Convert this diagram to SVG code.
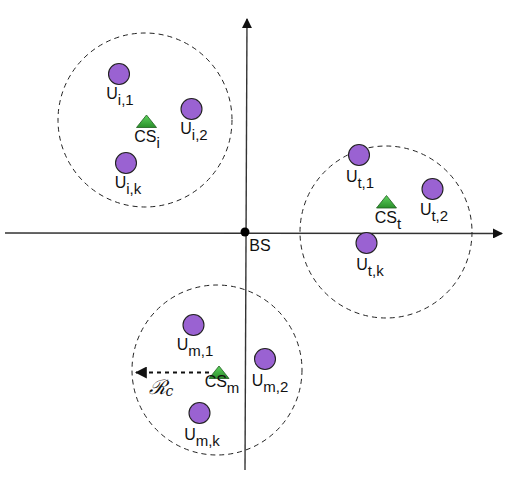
<svg xmlns="http://www.w3.org/2000/svg" width="532" height="483" viewBox="0 0 532 483">
<defs>
<marker id="ah" viewBox="0 0 10 10" refX="9" refY="5" markerWidth="10" markerHeight="10" markerUnits="userSpaceOnUse" orient="auto"><path d="M0,0 L10,5 L0,10 z" fill="#111"/></marker>
<marker id="ah2" viewBox="0 0 10 10" refX="9" refY="5" markerWidth="6" markerHeight="6" orient="auto"><path d="M0,0 L10,5 L0,10 z" fill="#111"/></marker>
<linearGradient id="g" x1="0" y1="0" x2="0" y2="1"><stop offset="0" stop-color="#5fd35f"/><stop offset="1" stop-color="#2a8f2a"/></linearGradient>
</defs>
<style>
.cell{fill:none;stroke:#222;stroke-width:1;stroke-dasharray:5,4}
.ue{fill:#9a62d2;stroke:#222;stroke-width:1.1}
.cs{fill:url(#g);stroke:#1e5e1e;stroke-width:0.8}
.axis{stroke:#333;stroke-width:1.4;fill:none}
text{font-family:"Liberation Sans",Arial,sans-serif;font-size:16px;fill:#111;text-anchor:middle}
.sub{font-size:15px}
</style>
<g id="connectors">
<line class="axis" x1="5" y1="233" x2="502" y2="233.5" marker-end="url(#ah)"/>
<line class="axis" x1="245" y1="470" x2="247" y2="19" marker-end="url(#ah)"/>
<line x1="209" y1="372.5" x2="136" y2="372.5" stroke="#111" stroke-width="2" stroke-dasharray="4,4" marker-end="url(#ah2)"/>
</g>
<g id="BS"><circle cx="245" cy="232" r="4.5" fill="#000"/><text x="260" y="251">BS</text></g>
<g id="cell_i"><circle class="cell" cx="145" cy="120" r="87"/></g>
<g id="cell_t"><circle class="cell" cx="386" cy="232" r="86"/></g>
<g id="cell_m"><circle class="cell" cx="217" cy="370" r="85"/></g>
<g id="U_i1"><circle class="ue" cx="119" cy="74" r="10.5"/><text x="120" y="99">U<tspan class="sub" dy="6">i,1</tspan></text></g>
<g id="U_i2"><circle class="ue" cx="191.5" cy="109" r="10.5"/><text x="194" y="134">U<tspan class="sub" dy="6">i,2</tspan></text></g>
<g id="U_ik"><circle class="ue" cx="126" cy="163" r="10.5"/><text x="128" y="188">U<tspan class="sub" dy="6">i,k</tspan></text></g>
<g id="CS_i"><path class="cs" d="M146.5,115 L156.5,127.5 L136.5,127.5 z"/><text x="147" y="142">CS<tspan class="sub" dy="6">i</tspan></text></g>
<g id="U_t1"><circle class="ue" cx="359" cy="155" r="10.5"/><text x="360" y="182">U<tspan class="sub" dy="6">t,1</tspan></text></g>
<g id="U_t2"><circle class="ue" cx="432.5" cy="189" r="10.5"/><text x="434" y="215">U<tspan class="sub" dy="6">t,2</tspan></text></g>
<g id="U_tk"><circle class="ue" cx="366.5" cy="243" r="10.5"/><text x="370" y="270">U<tspan class="sub" dy="6">t,k</tspan></text></g>
<g id="CS_t"><path class="cs" d="M386.5,195.5 L396.5,208 L376.5,208 z"/><text x="388" y="223">CS<tspan class="sub" dy="6">t</tspan></text></g>
<g id="U_m1"><circle class="ue" cx="193.5" cy="325" r="10.5"/><text x="195" y="350">U<tspan class="sub" dy="6">m,1</tspan></text></g>
<g id="U_m2"><circle class="ue" cx="265" cy="359" r="10.5"/><text x="270" y="386">U<tspan class="sub" dy="6">m,2</tspan></text></g>
<g id="U_mk"><circle class="ue" cx="199.5" cy="413" r="10.5"/><text x="202" y="440">U<tspan class="sub" dy="6">m,k</tspan></text></g>
<g id="CS_m"><path class="cs" d="M219,366 L229,378.5 L209,378.5 z"/><text x="222" y="387">CS<tspan class="sub" dy="6">m</tspan></text></g>
<g id="Rc"><text x="161" y="394" style="font-family:'DejaVu Serif',serif;font-style:italic;font-size:20px">ℛ<tspan style="font-size:14px" dy="2">c</tspan></text></g>
</svg>
